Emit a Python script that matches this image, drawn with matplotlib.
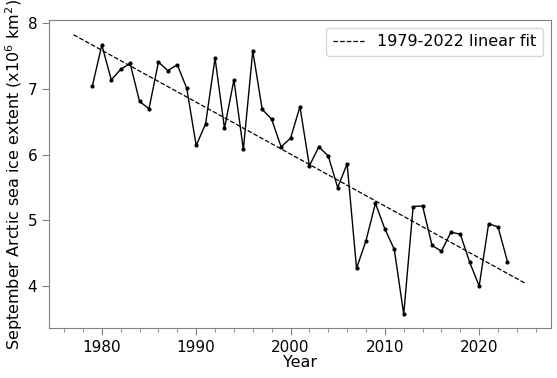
import numpy as np
import matplotlib.pyplot as plt
from matplotlib.ticker import MultipleLocator

years = np.arange(1979, 2024)
extent = [7.05, 7.67, 7.14, 7.30, 7.39, 6.81, 6.70, 7.41, 7.28, 7.37,
          7.01, 6.14, 6.47, 7.47, 6.40, 7.14, 6.08, 7.58, 6.69, 6.54,
          6.12, 6.25, 6.73, 5.83, 6.12, 5.98, 5.50, 5.86, 4.27, 4.69,
          5.26, 4.87, 4.56, 3.57, 5.21, 5.22, 4.62, 4.53, 4.82, 4.79,
          4.36, 4.00, 4.95, 4.90, 4.37]
fit_start, fit_end = 1979, 2022
line_years = np.array([1977, 2025])

ext = np.array(extent)
mask = (years >= fit_start) & (years <= fit_end)
coef = np.polyfit(years[mask], ext[mask], 1)

fig = plt.figure(figsize=(5.57, 3.78), dpi=100)
ax = fig.add_axes([0.088, 0.132, 0.901, 0.815])

ax.plot(years, ext, color='black', lw=1, marker='o', ms=2)
ax.plot(line_years, np.polyval(coef, line_years), 'k--', lw=0.9,
        label=f'{fit_start}-{fit_end} linear fit')

ax.set_xlim(1974.4, 2027.6)
ax.set_ylim(3.36, 8.05)
ax.set_yticks([4, 5, 6, 7, 8])
ax.xaxis.set_major_locator(MultipleLocator(10))
ax.xaxis.set_minor_locator(MultipleLocator(2))
ax.tick_params(which='both', color='gray', labelsize=11)
ax.tick_params(which='major', length=5)
ax.tick_params(which='minor', length=3)
for s in ax.spines.values():
    s.set_color('gray')

ax.set_xlabel('Year', fontsize=11.5, labelpad=0)
ax.set_ylabel('September Arctic sea ice extent (x10$^6$ km$^2$)', fontsize=11.5, labelpad=2)
ax.legend(loc='upper right', fontsize=11.5)

fig.savefig('out.png')
